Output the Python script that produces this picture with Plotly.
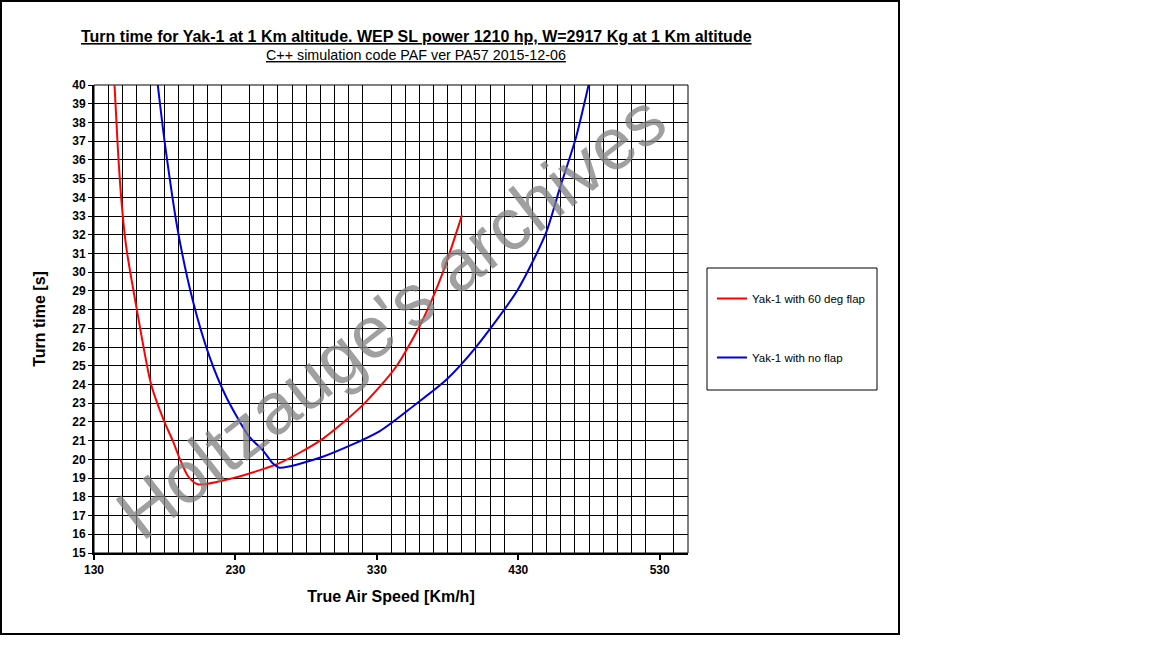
"""Turn time chart for the Yak-1."""

import plotly.graph_objects as go

# values
flap_speed = [144.5, 146.8, 149.2, 152.7, 160.3, 170.4, 179.8, 185.7, 190.8, 196.5, 203.4,
              228.1, 261.1, 291.7, 320.0, 343.6, 362.4, 376.5, 390.2]
flap_time = [40.0, 36.7, 34.0, 31.4, 28.0, 24.0, 22.0, 21.0, 20.0, 19.1, 18.67,
             19.0, 19.8, 21.1, 22.9, 24.95, 27.45, 29.95, 33.05]

noflap_speed = [175.1, 179.8, 189.2, 199.8, 211.6, 223.4, 239.9, 249.3, 256.4, 261.1, 291.7, 331.8,
                357.5, 378.9, 400.1, 429.5, 449.6, 459.0, 470.8, 479.7]
noflap_time = [40.0, 37.06, 32.25, 28.5, 25.5, 23.35, 21.2, 20.5, 19.79, 19.56, 20.14, 21.5,
               22.95, 24.24, 26.0, 29.05, 32.1, 34.4, 37.2, 40.0]

series_names = ["Yak-1 with 60 deg flap", "Yak-1 with no flap"]

title_text = "Turn time for Yak-1 at 1 Km altitude. WEP SL power 1210 hp, W=2917 Kg at 1 Km altitude"
subtitle_text = "C++ simulation code PAF ver PA57 2015-12-06"
watermark = "Holtzauge's archives"

FONT = "Liberation Sans, Arial, sans-serif"

fig = go.Figure()
fig.add_trace(go.Scatter(x=flap_speed, y=flap_time, mode="lines", name=series_names[0],
                         legendgroup="a", line=dict(color="#ff0000", width=2, shape="spline", smoothing=0.7)))
fig.add_trace(go.Scatter(x=noflap_speed, y=noflap_time, mode="lines", name=series_names[1],
                         legendgroup="b", line=dict(color="#0000dd", width=2, shape="spline", smoothing=0.7)))

FW, FH = 1152, 648
# plot area in screen pixels: x 94..688, y 85..553
L, R, T, B = 94, 688, 85, 553
W, H = R - L, B - T


def px(x):
    return (x - L) / W


def py(y):
    return (B - y) / H


fig.update_layout(
    width=FW, height=FH,
    margin=dict(l=L, r=FW - R, t=T, b=FH - B),
    paper_bgcolor="white", plot_bgcolor="white",
    font=dict(family=FONT, color="black"),
    showlegend=True,
    legend=dict(x=px(712), y=py(284), xanchor="left", yanchor="top",
                bgcolor="rgba(0,0,0,0)", tracegroupgap=40,
                font=dict(size=11.5, family=FONT), itemwidth=30),
    xaxis=dict(range=[130, 550], tick0=130, dtick=100, showgrid=False,
               showline=True, linecolor="black", linewidth=2,
               ticks="outside", ticklen=5, tickwidth=2, tickcolor="black",
               tickfont=dict(size=12, family=FONT, weight="bold"),
               minor=dict(dtick=10, tick0=130, showgrid=True, gridcolor="black", gridwidth=1),
               title=dict(text="<b>True Air Speed [Km/h]</b>", font=dict(size=16), standoff=14),
               zeroline=False, fixedrange=True),
    yaxis=dict(range=[15, 40], tick0=15, dtick=1, showgrid=True, gridcolor="black", gridwidth=1,
               showline=True, linecolor="black", linewidth=2,
               ticks="outside", ticklen=4, tickwidth=1, tickcolor="black",
               tickfont=dict(size=12, family=FONT, weight="bold"),
               title=dict(text="<b>Turn time [s]</b>", font=dict(size=16), standoff=23),
               zeroline=False, fixedrange=True),
    shapes=[
        dict(type="rect", xref="paper", yref="paper", x0=0, x1=1, y0=0, y1=1,
             line=dict(color="black", width=1), layer="below"),
        dict(type="rect", xref="paper", yref="paper", x0=px(1), x1=px(899), y0=py(634), y1=py(1),
             line=dict(color="black", width=2)),
        dict(type="rect", xref="paper", yref="paper", x0=px(707), x1=px(877), y0=py(390), y1=py(268),
             line=dict(color="black", width=1)),
    ],
    annotations=[
        dict(text="<b><u>" + title_text + "</u></b>", xref="paper", yref="paper",
             x=px(416), y=py(37), yanchor="middle", showarrow=False, font=dict(size=16, family=FONT)),
        dict(text="<u>" + subtitle_text + "</u>", xref="paper", yref="paper",
             x=px(416), y=py(55), yanchor="middle", showarrow=False, font=dict(size=14.3, family=FONT)),
        dict(text=watermark, xref="paper", yref="paper", x=px(390), y=py(316),
             yanchor="middle", showarrow=False, textangle=-38,
             font=dict(size=73, family="Liberation Sans Narrow, Liberation Sans, Arial",
                       color="rgba(128,128,128,0.75)")),
    ],
)

# drop the browser's default 8px body margin so the page lines up with the window
fig.write_html("out.html", config={"displayModeBar": False},
               post_script="document.body.style.margin = '0px';")
